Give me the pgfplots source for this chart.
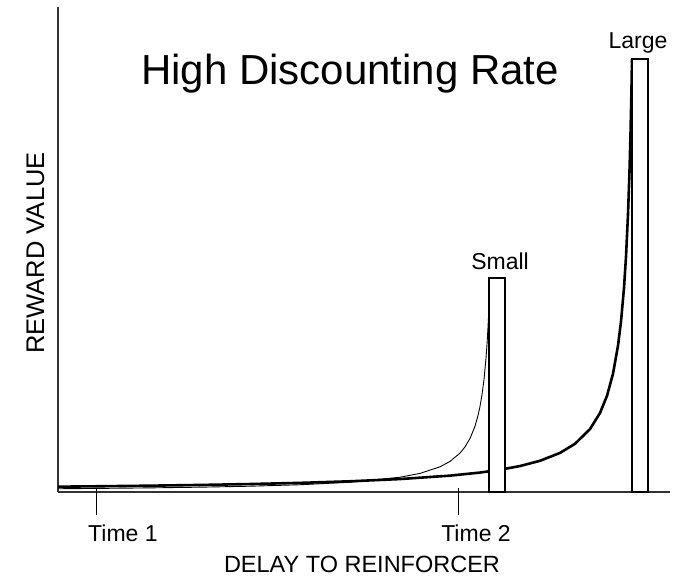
\documentclass[border=0pt]{standalone}
\usepackage{pgfplots}
\pgfplotsset{compat=1.18}
\usepackage{fontspec}
\setmainfont{Liberation Sans}
\begin{document}
\begin{tikzpicture}[x=1pt,y=1pt]
\path[use as bounding box] (0,0) rectangle (693,577);
\begin{axis}[
  at={(58pt,85pt)}, anchor=south west,
  scale only axis, width=612pt, height=485pt,
  xmin=58, xmax=670, ymin=0, ymax=485,
  axis x line=bottom, axis y line=left,
  axis line style={-, line width=1.2pt, black!80},
  xtick=\empty, ytick=\empty,
  clip=false,
]
% small reward, steep curve
\addplot[black, line width=0.9pt] coordinates {
(58,3.25)(100,3.60)(150,4.12)(200,4.81)(250,5.78)(300,7.25)(350,9.73)
(400,14.76)(420,18.6)(440,25.2)(450,30.6)(460,38.9)(465,45.1)(470,53.5)
(475,65.8)(478,76.4)(480,85.6)(482,97.3)(484,112.6)(486,133.8)(487,147.6)
(488,164.6)(489,186.1)(490,214)};
% large reward curve
\addplot[black, line width=2.6pt] coordinates {
(58,5.32)(100,5.74)(150,6.32)(200,7.04)(250,7.95)(300,9.12)(350,10.70)
(400,12.93)(450,16.35)(480,19.43)(500,22.23)(520,25.96)(540,31.20)
(560,39.08)(575,48.2)(590,62.9)(600,79.0)(607,96.2)(613,118.3)(618,146.3)
(621,170.5)(624,204.2)(626,235.3)(628,277.6)(629.5,320.7)(630.5,357.9)
(631.5,404.7)(632,433)};
% bars
\addplot[fill=white, draw=black, line width=1.2pt] coordinates {(489,0)(489,214)(505,214)(505,0)} -- cycle;
\addplot[fill=white, draw=black, line width=1.2pt] coordinates {(632,0)(632,433)(648,433)(648,0)} -- cycle;
% ticks
\draw[black, line width=1pt] (axis cs:96,4) -- (axis cs:96,-23);
\draw[black, line width=1pt] (axis cs:458,4) -- (axis cs:458,-23);
\end{axis}
\node[anchor=base west, inner sep=0pt, font=\fontsize{42}{48}\selectfont] at (141,492) {High Discounting Rate};
\node[anchor=base, inner sep=0pt, font=\fontsize{23}{27}\selectfont] at (638,528) {Large};
\node[anchor=base, inner sep=0pt, font=\fontsize{23}{27}\selectfont] at (500,307) {Small};
\node[anchor=base west, inner sep=0pt, font=\fontsize{23}{27}\selectfont] at (88,35) {Time 1};
\node[anchor=base, inner sep=0pt, font=\fontsize{23}{27}\selectfont] at (476,35) {Time 2};
\node[anchor=base, inner sep=0pt, font=\fontsize{23.5}{27}\selectfont] at (362,4) {DELAY TO REINFORCER};
\node[anchor=base, inner sep=0pt, rotate=90, font=\fontsize{25.5}{29}\selectfont] at (44,324) {REWARD VALUE};
\end{tikzpicture}
\end{document}
